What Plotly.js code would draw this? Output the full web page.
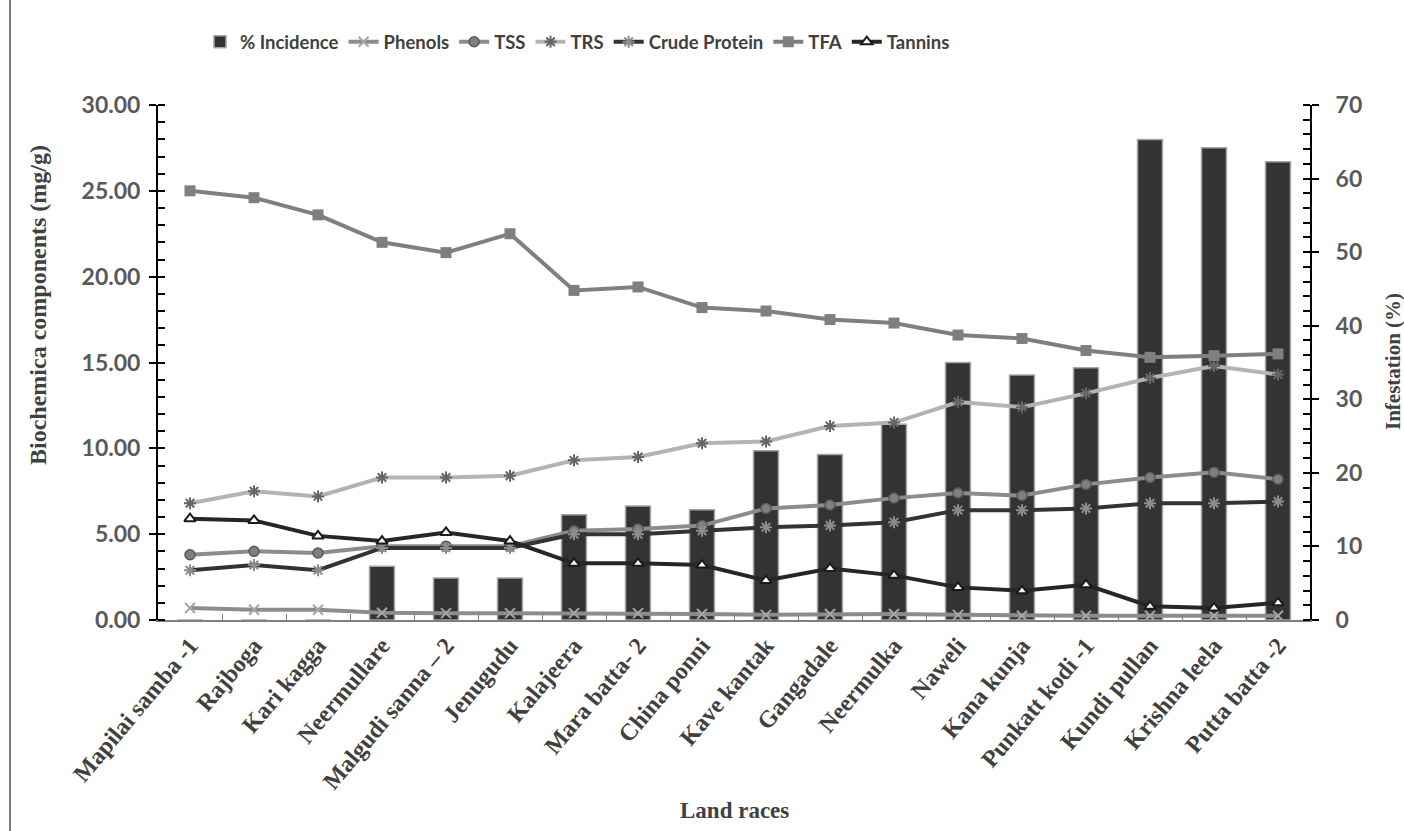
<!DOCTYPE html>
<html>
<head>
<meta charset="utf-8">
<script src="https://cdn.plot.ly/plotly-3.0.1.min.js"></script>
<style>html,body{margin:0;padding:0;background:#fff;}#chart{width:1404px;height:831px;}</style>
</head>
<body>
<div id="chart"></div>
<script>
const landRaces = ["Mapilai samba -1","Rajboga","Kari kagga","Neermullare","Malgudi sanna – 2","Jenugudu","Kalajeera","Mara batta- 2","China ponni","Kave kantak","Gangadale","Neermulka","Naweli","Kana kunja","Punkatt kodi -1","Kundi pullan","Krishna leela","Putta batta -2"];
const incidence = [0,0,0,7.3,5.7,5.7,14.3,15.5,15.0,23.0,22.5,26.6,35.0,33.3,34.3,65.3,64.2,62.3];
const phenols = [0.70,0.60,0.60,0.42,0.40,0.40,0.40,0.40,0.35,0.30,0.35,0.35,0.30,0.25,0.25,0.25,0.25,0.25];
const tss = [3.8,4.0,3.9,4.3,4.3,4.3,5.2,5.3,5.5,6.5,6.7,7.1,7.4,7.25,7.9,8.3,8.6,8.2];
const trs = [6.8,7.5,7.2,8.3,8.3,8.4,9.3,9.5,10.3,10.4,11.3,11.5,12.7,12.4,13.2,14.1,14.8,14.3];
const crudeProtein = [2.9,3.2,2.9,4.2,4.2,4.2,5.0,5.0,5.2,5.4,5.5,5.7,6.4,6.4,6.5,6.8,6.8,6.9];
const tfa = [25.0,24.6,23.6,22.0,21.4,22.5,19.2,19.4,18.2,18.0,17.5,17.3,16.6,16.4,15.7,15.3,15.4,15.5];
const tannins = [5.9,5.8,4.9,4.6,5.1,4.6,3.3,3.3,3.2,2.3,3.0,2.6,1.9,1.7,2.05,0.8,0.7,1.0];

const traces = [
  {type:'bar', name:'% Incidence', x:landRaces, y:incidence, yaxis:'y',
   marker:{color:'#333333', line:{color:'#a6a6a6', width:1.5}}},
  {type:'scatter', mode:'lines+markers', name:'Phenols', x:landRaces, y:phenols, yaxis:'y2',
   line:{color:'#8c8c8c', width:4},
   marker:{symbol:'x-thin', size:10, color:'#a6a6a6', line:{color:'#a6a6a6', width:2}}},
  {type:'scatter', mode:'lines+markers', name:'TSS', x:landRaces, y:tss, yaxis:'y2',
   line:{color:'#8c8c8c', width:4},
   marker:{symbol:'circle', size:10, color:'#7f7f7f', line:{color:'#595959', width:1.5}}},
  {type:'scatter', mode:'lines+markers', name:'TRS', x:landRaces, y:trs, yaxis:'y2',
   line:{color:'#b3b3b3', width:4},
   marker:{symbol:'asterisk', size:10, color:'#666666', line:{color:'#666666', width:2}}},
  {type:'scatter', mode:'lines+markers', name:'Crude Protein', x:landRaces, y:crudeProtein, yaxis:'y2',
   line:{color:'#333333', width:4},
   marker:{symbol:'asterisk', size:10, color:'#8c8c8c', line:{color:'#8c8c8c', width:2}}},
  {type:'scatter', mode:'lines+markers', name:'TFA', x:landRaces, y:tfa, yaxis:'y2',
   line:{color:'#7f7f7f', width:4},
   marker:{symbol:'square', size:11, color:'#7f7f7f'}},
  {type:'scatter', mode:'lines+markers', name:'Tannins', x:landRaces, y:tannins, yaxis:'y2',
   line:{color:'#262626', width:4},
   marker:{symbol:'triangle-up', size:10, color:'#ffffff', line:{color:'#1a1a1a', width:2}}}
];

const tickFont = {family:'Lato, "Open Sans", sans-serif', size:23, color:'#595959', weight:700};
const serifBold = {family:'"Liberation Serif", "Times New Roman", serif', size:23, color:'#404040', weight:700};

const layout = {
  width:1404, height:831,
  margin:{l:158, r:94, t:105, b:211},
  paper_bgcolor:'#ffffff', plot_bgcolor:'#ffffff',
  showlegend:true,
  bargap:0.61,
  legend:{orientation:'h', x:(200-158)/1152, xanchor:'left', y:1.122, yanchor:'middle',
          font:{family:'Lato, "Open Sans", sans-serif', size:18.5, color:'#404040', weight:700},
          itemwidth:30, tracegroupgap:0},
  xaxis:{type:'category', range:[-0.5,17.5], tickangle:-50, tickfont:{...serifBold, size:24},
         showline:true, linecolor:'#7f7f7f', linewidth:2, ticks:'inside', tickson:'boundaries',
         ticklen:6, tickcolor:'#7f7f7f', showgrid:false, zeroline:false, automargin:false},
  yaxis:{side:'right', range:[0,70], dtick:10, tickformat:'d', tickfont:tickFont,
         showline:true, linecolor:'#000000', linewidth:2, ticks:'outside', ticklen:7, tickwidth:2,
         ticklabelstandoff:12,
         tickcolor:'#000000', minor:{dtick:2, ticks:'inside', ticklen:7, tickwidth:2, tickcolor:'#000000'},
         showgrid:false, zeroline:false, automargin:false},
  yaxis2:{side:'left', overlaying:'y', range:[0,30], dtick:5, tickformat:'.2f', tickfont:tickFont,
          showline:true, linecolor:'#000000', linewidth:2, ticks:'outside', ticklen:7, tickwidth:2,
          ticklabelstandoff:4,
          tickcolor:'#000000', minor:{dtick:1, ticks:'inside', ticklen:7, tickwidth:2, tickcolor:'#000000'},
          showgrid:false, zeroline:false, automargin:false},
  annotations:[
    {text:'Biochemica components (mg/g)', xref:'paper', yref:'paper',
     x:(38-158)/1152, y:(620-305)/515, textangle:-90, showarrow:false,
     xanchor:'center', yanchor:'middle', font:{...serifBold, size:24}},
    {text:'Infestation (%)', xref:'paper', yref:'paper',
     x:(1393-158)/1152, y:(620-362)/515, textangle:-90, showarrow:false,
     xanchor:'center', yanchor:'middle', font:{...serifBold, size:21}},
    {text:'Land races', xref:'paper', yref:'paper',
     x:(734-158)/1152, y:(620-810)/515, showarrow:false,
     xanchor:'center', yanchor:'middle', font:serifBold}
  ],
  shapes:[
    {type:'line', xref:'paper', yref:'paper', x0:(10-158)/1152, x1:(10-158)/1152,
     y0:(620-831)/515, y1:(620-0)/515, line:{color:'#7f7f7f', width:2}}
  ]
};

Plotly.newPlot('chart', traces, layout, {displayModeBar:false, staticPlot:true});
</script>
</body>
</html>
